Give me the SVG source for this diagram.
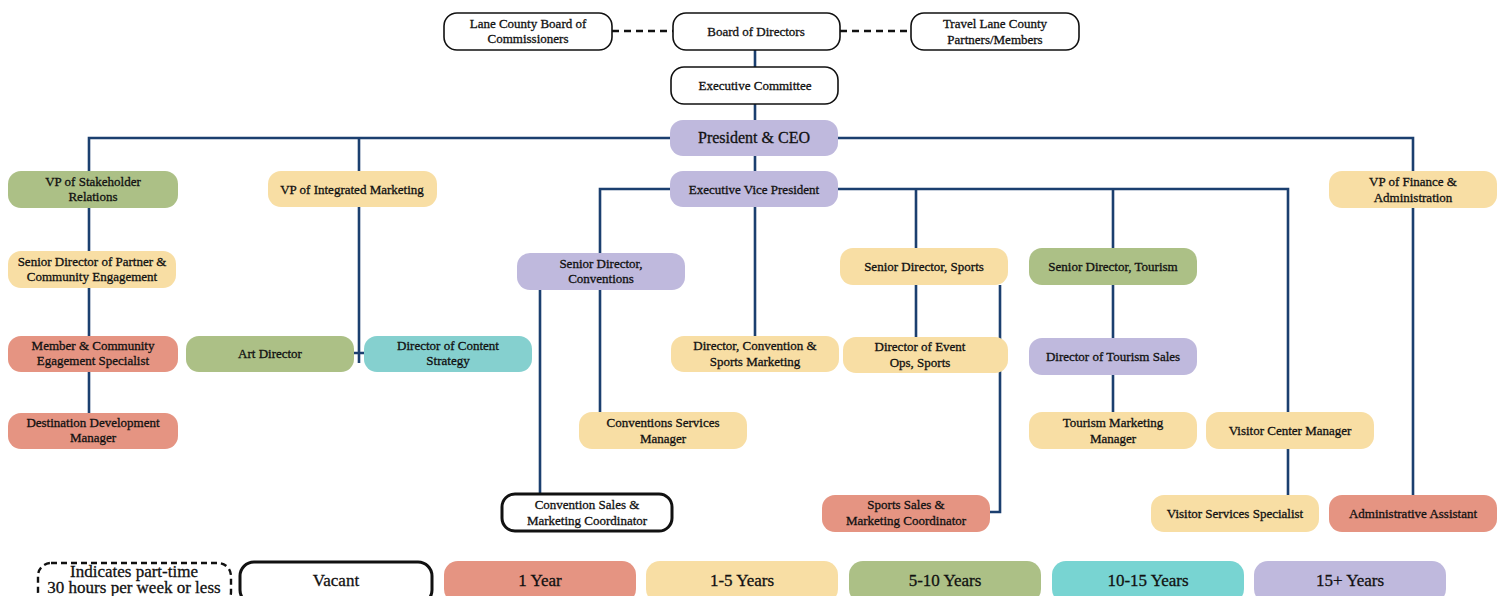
<svg xmlns="http://www.w3.org/2000/svg" width="1505" height="596" viewBox="0 0 1505 596">
<style>
.n{rx:13;ry:13}
.w{fill:#fff;stroke:#111;stroke-width:1.6}
.v{fill:#fff;stroke:#111;stroke-width:3}
.p{fill:#bfb9dd}
.g{fill:#acc086}
.y{fill:#f8dea4}
.s{fill:#e59482}
.t{fill:#85d0cf}
.t2{fill:#78d4d2}
text{font-family:"Liberation Serif","Times New Roman",serif;font-size:13px;fill:#111;stroke:#111;stroke-width:0.3;text-anchor:middle}
.big{font-size:16px}
.lg{font-size:17px}
.c{stroke:#1b3f6f;stroke-width:2.6;fill:none}
.d{stroke:#111;stroke-width:2.6;stroke-dasharray:7 5;fill:none}
</style>
<rect width="1505" height="596" fill="#fff"/>
<g id="connectors">
<path class="d" d="M612 31H673M840 31H911"/>
<path class="c" d="M755 50V67M755 104V120"/>
<path class="c" d="M89 171V138H1413V171M359 138V171"/>
<path class="c" d="M89 208V413"/>
<path class="c" d="M359 207V363M354 353H364"/>
<path class="c" d="M755 156V171M755 207V336"/>
<path class="c" d="M600 253V189H1288V412M916 189V337M1113 189V412"/>
<path class="c" d="M600 290V412M540 290V494"/>
<path class="c" d="M1000 285V512H990"/>
<path class="c" d="M1288 449V495"/>
<path class="c" d="M1413 208V495"/>
</g>
<g id="lane-county"><rect class="n w" x="444" y="13" width="168" height="37"/><text x="528" y="28">Lane County Board of</text><text x="528" y="43">Commissioners</text></g>
<g id="board"><rect class="n w" x="673" y="13" width="167" height="37"/><text x="756" y="36">Board of Directors</text></g>
<g id="travel-lane"><rect class="n w" x="911" y="13" width="168" height="37"/><text x="995" y="28">Travel Lane County</text><text x="995" y="44">Partners/Members</text></g>
<g id="exec-committee"><rect class="n w" x="671" y="67" width="167" height="37"/><text x="755" y="90">Executive Committee</text></g>
<g id="ceo"><rect class="n p" x="670" y="120" width="168" height="36"/><text class="big" x="754" y="143">President &amp; CEO</text></g>
<g id="vp-stakeholder"><rect class="n g" x="8" y="171" width="170" height="37"/><text x="93" y="186">VP of Stakeholder</text><text x="93" y="201">Relations</text></g>
<g id="vp-marketing"><rect class="n y" x="268" y="171" width="169" height="36"/><text x="352" y="194">VP of Integrated Marketing</text></g>
<g id="evp"><rect class="n p" x="670" y="171" width="168" height="36"/><text x="754" y="194">Executive Vice President</text></g>
<g id="vp-finance"><rect class="n y" x="1329" y="171" width="168" height="37"/><text x="1413" y="186">VP of Finance &amp;</text><text x="1413" y="202">Administration</text></g>
<g id="sd-partner"><rect class="n y" x="8" y="251" width="168" height="37"/><text x="92" y="266">Senior Director of Partner &amp;</text><text x="92" y="281">Community Engagement</text></g>
<g id="sd-conventions"><rect class="n p" x="517" y="253" width="168" height="37"/><text x="601" y="268">Senior Director,</text><text x="601" y="283">Conventions</text></g>
<g id="sd-sports"><rect class="n y" x="840" y="248" width="168" height="37"/><text x="924" y="271">Senior Director, Sports</text></g>
<g id="sd-tourism"><rect class="n g" x="1029" y="248" width="168" height="37"/><text x="1113" y="271">Senior Director, Tourism</text></g>
<g id="member-specialist"><rect class="n s" x="8" y="336" width="170" height="36"/><text x="93" y="350">Member &amp; Community</text><text x="93" y="365">Egagement Specialist</text></g>
<g id="art-director"><rect class="n g" x="186" y="336" width="168" height="36"/><text x="270" y="358">Art Director</text></g>
<g id="content-strategy"><rect class="n t" x="364" y="336" width="168" height="36"/><text x="448" y="350">Director of Content</text><text x="448" y="365">Strategy</text></g>
<g id="dir-conv-sports"><rect class="n y" x="671" y="336" width="168" height="36"/><text x="755" y="350">Director, Convention &amp;</text><text x="755" y="366">Sports Marketing</text></g>
<g id="dir-event-ops"><rect class="n y" x="843" y="337" width="165" height="36"/><text x="920" y="351">Director of Event</text><text x="920" y="367">Ops, Sports</text></g>
<g id="dir-tourism-sales"><rect class="n p" x="1029" y="338" width="168" height="37"/><text x="1113" y="361">Director of Tourism Sales</text></g>
<g id="dest-dev"><rect class="n s" x="8" y="413" width="170" height="36"/><text x="93" y="427">Destination Development</text><text x="93" y="442">Manager</text></g>
<g id="conv-services"><rect class="n y" x="579" y="412" width="168" height="37"/><text x="663" y="427">Conventions Services</text><text x="663" y="443">Manager</text></g>
<g id="tourism-marketing"><rect class="n y" x="1029" y="412" width="168" height="37"/><text x="1113" y="427">Tourism Marketing</text><text x="1113" y="443">Manager</text></g>
<g id="visitor-center"><rect class="n y" x="1206" y="412" width="168" height="37"/><text x="1290" y="435">Visitor Center Manager</text></g>
<g id="conv-sales-coord"><rect class="n v" x="502" y="494" width="170" height="37"/><text x="587" y="509">Convention Sales &amp;</text><text x="587" y="525">Marketing Coordinator</text></g>
<g id="sports-sales-coord"><rect class="n s" x="822" y="495" width="168" height="37"/><text x="906" y="509">Sports Sales &amp;</text><text x="906" y="525">Marketing Coordinator</text></g>
<g id="visitor-services"><rect class="n y" x="1151" y="495" width="168" height="37"/><text x="1235" y="518">Visitor Services Specialist</text></g>
<g id="admin-assistant"><rect class="n s" x="1329" y="495" width="168" height="37"/><text x="1413" y="518">Administrative Assistant</text></g>
<g id="legend">
<rect x="38" y="563" width="193" height="42" rx="13" fill="#fff" stroke="#111" stroke-width="2.4" stroke-dasharray="6 4"/>
<text class="lg" x="134" y="577">Indicates part-time</text><text class="lg" x="134" y="593">30 hours per week or less</text>
<rect class="v" x="240" y="562" width="192" height="42" rx="14"/><text class="lg" x="336" y="586">Vacant</text>
<rect class="s" x="444" y="561" width="192" height="42" rx="14"/><text class="lg" x="540" y="586">1 Year</text>
<rect class="y" x="646" y="561" width="192" height="42" rx="14"/><text class="lg" x="742" y="586">1-5 Years</text>
<rect class="g" x="849" y="561" width="192" height="42" rx="14"/><text class="lg" x="945" y="586">5-10 Years</text>
<rect class="t2" x="1052" y="561" width="192" height="42" rx="14"/><text class="lg" x="1148" y="586">10-15 Years</text>
<rect class="p" x="1254" y="561" width="192" height="42" rx="14"/><text class="lg" x="1350" y="586">15+ Years</text>
</g>
</svg>
